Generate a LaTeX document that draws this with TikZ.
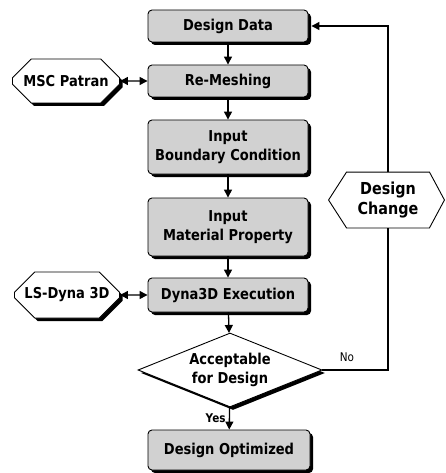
\documentclass[tikz,border=0pt]{standalone}
\usepackage{fontspec}
\setmainfont{DejaVu Sans}[FakeStretch=0.87]
\usetikzlibrary{shapes.geometric,shapes.misc,shadows,arrows.meta,backgrounds}

\begin{document}
\begin{tikzpicture}[x=1pt, y=-1pt, line width=1.3pt, >={Triangle[length=8pt,width=8pt]},
  every node/.style={font=\fontsize{15}{19}\selectfont\bfseries, align=center, line width=0.9pt},
  shade/.style={drop shadow={shadow xshift=3pt, shadow yshift=-3pt, fill=black, opacity=1}},
  stepbox/.style={shade, draw=black, rectangle, rounded corners=4pt, fill=black!18, minimum width=160pt, inner sep=0pt},
  toolbox/.style={shade, draw=black, chamfered rectangle, chamfered rectangle xsep=12pt, chamfered rectangle ysep=13pt, fill=white, minimum width=107pt, minimum height=44pt, inner sep=0pt},
  decide/.style={shade, draw=black, diamond, aspect=2.5, fill=white, minimum width=184pt, minimum height=74pt, inner sep=0pt},
  change/.style={rectangle, minimum width=82pt, minimum height=55pt, inner sep=0pt, font=\fontsize{16.5}{20}\selectfont\bfseries},
  lbl/.style={font=\fontsize{12}{12}\selectfont}]
\useasboundingbox (0,0) rectangle (445,473);

\node[stepbox, minimum height=32pt] (data) at (228, 26) {Design Data};
\node[stepbox, minimum height=32pt] (mesh) at (228, 81) {Re-Meshing};
\node[stepbox, minimum height=54pt] (bound) at (228, 147) {Input\\Boundary Condition};
\node[stepbox, minimum height=58pt] (mat) at (228, 227) {Input\\Material Property};
\node[stepbox, minimum height=34pt] (exec) at (228, 295) {Dyna3D Execution};
\node[decide] (accept) at (230, 370) {Acceptable\\for Design};
\node[stepbox, minimum height=40pt, minimum width=162pt] (opt) at (229, 450) {Design Optimized};

\node[toolbox] (patran) at (66, 81) {MSC Patran};
\node[toolbox, minimum width=105pt, minimum height=46pt] (lsdyna) at (67, 295) {LS-Dyna 3D};
\node[change] (dchange) at (388, 200) {Design\\Change};
\begin{scope}[on background layer]
\draw[line width=0.9pt, fill=white] (dchange.north west) -- (dchange.north east) -- ([xshift=15pt]dchange.east)
  -- (dchange.south east) -- (dchange.south west) -- ([xshift=-18pt]dchange.west) -- cycle;
\end{scope}

\draw[->] (data) -- (mesh); \draw[->] (mesh) -- (bound); \draw[->] (bound) -- (mat);
\draw[->] (mat) -- (exec); \draw[->] (exec) -- (accept);
\draw[->] (accept) -- node[left, font=\fontsize{12}{12}\selectfont\bfseries] {Yes} (opt);
\draw[<->] (patran) -- (mesh); \draw[<->] (lsdyna) -- (exec);

\draw (accept.east) -| (dchange.south);
\draw[->, shorten >=-1pt] (dchange.north) |- ([xshift=4pt]data.east);
\node[lbl] at (347, 357) {No};
\end{tikzpicture}
\end{document}
